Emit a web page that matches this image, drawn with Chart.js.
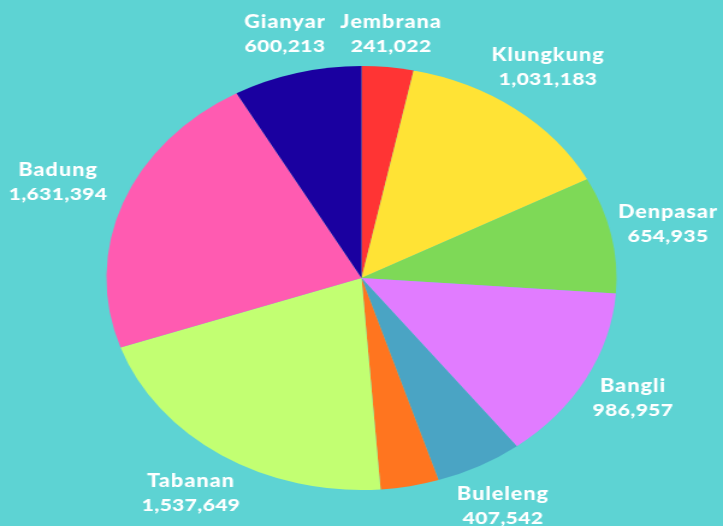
<!DOCTYPE html>
<html>
<head>
<meta charset="utf-8">
<script src="https://cdn.jsdelivr.net/npm/chart.js@4"></script>
<style>
  html, body { margin: 0; padding: 0; background: #5dd3d3; overflow: hidden; }
  #wrap { width: 601px; height: 526px; transform: scaleX(1.203); transform-origin: 0 0; }
</style>
</head>
<body>
<div id="wrap"><canvas id="myChart" width="601" height="526"></canvas></div>
<script>
// data kabupaten / kota (urutan searah jarum jam dari atas)
const kabupaten = ["Jembrana", "Klungkung", "Denpasar", "Bangli", "Buleleng", "Karangasem", "Tabanan", "Badung", "Gianyar"];
const jumlah = [241022, 1031183, 654935, 986957, 407542, 272000, 1537649, 1631394, 600213];
const labelTeks = ["241,022", "1,031,183", "654,935", "986,957", "407,542", "", "1,537,649", "1,631,394", "600,213"];
const warna = ["#ff3434", "#ffe335", "#7ed957", "#e17cff", "#4aa4c4", "#ff751f", "#c2ff72", "#ff5bb1", "#1a00a0"];

// posisi label di layar (x halaman, y baris pertama)
const posLabel = [[391, 22], [548, 55], [668, 212], [633, 386], [503, 494], null, [191, 481], [58, 170], [285, 22]];
const sx = 1.203;

const labelPlugin = {
    id: "labelPlugin",
    afterDraw(chart) {
        const c = chart.ctx;
        c.save();
        c.fillStyle = "#ffffff";
        c.textAlign = "center";
        c.textBaseline = "middle";
        kabupaten.forEach((nama, i) => {
            if (!posLabel[i]) return;
            const x = posLabel[i][0] / sx;
            const y = posLabel[i][1];
            c.font = "900 18px Lato";
            c.letterSpacing = "0.8px";
            c.fillText(nama, x, y);
            c.font = "900 17.5px Lato";
            c.letterSpacing = "0.3px";
            c.fillText(labelTeks[i], x, y + 24);
        });
        c.restore();
    },
};

let ctx = document.getElementById("myChart").getContext("2d");
let myChart = new Chart(ctx, {
    type: "pie",
    data: {
        labels: kabupaten,
        datasets: [
            {
                data: jumlah,
                backgroundColor: warna,
                borderWidth: 0,
            },
        ],
    },
    options: {
        responsive: false,
        animation: false,
        layout: { padding: { top: 66, bottom: 36, left: 0, right: 0 } },
        plugins: { legend: { display: false }, tooltip: { enabled: false } },
    },
    plugins: [labelPlugin],
});
</script>
</body>
</html>
